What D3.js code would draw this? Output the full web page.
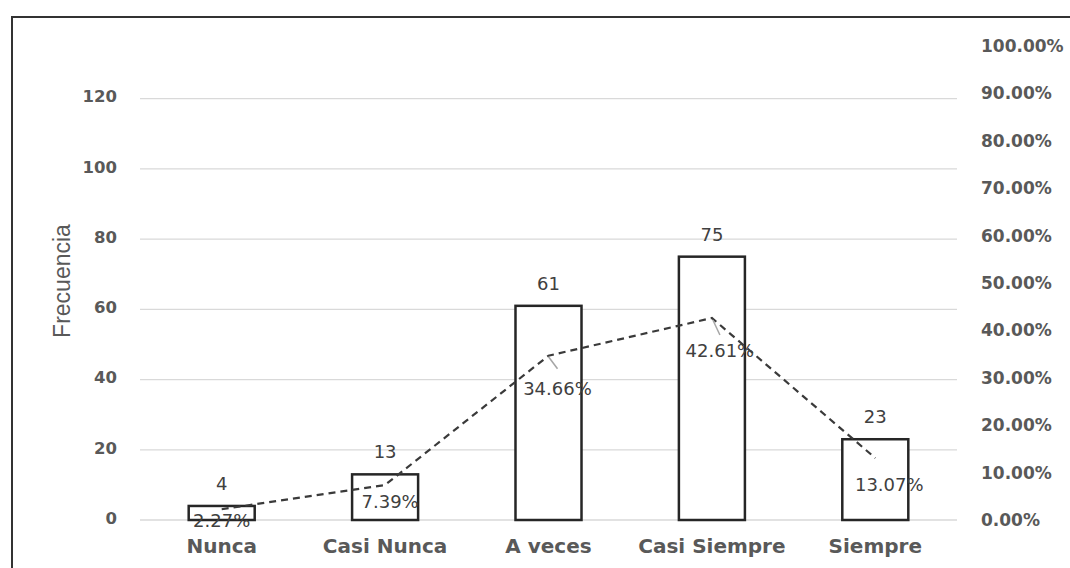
<!DOCTYPE html>
<html>
<head>
<meta charset="utf-8">
<script src="https://cdn.jsdelivr.net/npm/d3@7/dist/d3.min.js"></script>
<style>
  html, body { margin: 0; padding: 0; background: #ffffff; }
  svg { display: block; }
</style>
</head>
<body>
<script>
// ---- data ----
const categories = ["Nunca", "Casi Nunca", "A veces", "Casi Siempre", "Siempre"];
const frequencies = [4, 13, 61, 75, 23];
const percentages = [0.0227, 0.0739, 0.3466, 0.4261, 0.1307];
const percentLabels = ["2.27%", "7.39%", "34.66%", "42.61%", "13.07%"];
const leftTicks = [0, 20, 40, 60, 80, 100, 120];
const rightTicks = [0, 0.1, 0.2, 0.3, 0.4, 0.5, 0.6, 0.7, 0.8, 0.9, 1.0];
const yAxisTitle = "Frecuencia";

// ---- layout / style (not data) ----
const W = 1070, H = 568;
const plot = { left: 140, right: 957, top: 46, bottom: 520 };
const leftMax = 135;
// manual data-label offsets (dx, dy from point) as in the reference
const pctLabelOffsets = [[0, 18], [5, 23], [9, 39], [8, 39], [14, 33]];
const leaderLines = [null, null, [[0, 1], [9, 13]], [[1, 2], [8, 17]], null];

const svg = d3.select("body").append("svg").attr("width", W).attr("height", H);

// outer chart border
svg.append("rect").attr("x", 12).attr("y", 17).attr("width", 1100).attr("height", 600)
  .attr("fill", "#fff").attr("stroke", "#333").attr("stroke-width", 2);

const x = d3.scaleBand().domain(categories).range([plot.left, plot.right]).padding(0);
const yL = d3.scaleLinear().domain([0, leftMax]).range([plot.bottom, plot.top]);
const yR = d3.scaleLinear().domain([0, 1]).range([plot.bottom, plot.top]);

// gridlines
svg.append("g").selectAll("line").data(leftTicks).join("line")
  .attr("x1", plot.left).attr("x2", plot.right)
  .attr("y1", d => yL(d)).attr("y2", d => yL(d))
  .attr("stroke", "#d9d9d9").attr("stroke-width", 1.3);

// left axis
const gL = svg.append("g").attr("transform", `translate(${plot.left},0)`)
  .call(d3.axisLeft(yL).tickValues(leftTicks).tickSize(0).tickPadding(23));
gL.select(".domain").remove();
gL.selectAll("text").attr("fill", "#595959")
  .style("font-family", "'DejaVu Sans', sans-serif").style("font-weight", "bold").style("font-size", "16.5px")
  .attr("dy", "0.2em");

// right axis
const gR = svg.append("g").attr("transform", `translate(${plot.right},0)`)
  .call(d3.axisRight(yR).tickValues(rightTicks).tickSize(0).tickPadding(24)
        .tickFormat(d => (d * 100).toFixed(2) + "%"));
gR.select(".domain").remove();
gR.selectAll("text").attr("fill", "#595959")
  .style("font-family", "'DejaVu Sans', sans-serif").style("font-weight", "bold").style("font-size", "17px");

// x axis labels
const gX = svg.append("g").attr("transform", `translate(0,${plot.bottom})`)
  .call(d3.axisBottom(x).tickSize(0).tickPadding(19));
gX.select(".domain").remove();
gX.selectAll("text").attr("fill", "#595959")
  .style("font-family", "'DejaVu Sans', sans-serif").style("font-weight", "bold").style("font-size", "20px");

// y axis title
svg.append("text")
  .attr("transform", `translate(${70},${281}) rotate(-90)`)
  .attr("text-anchor", "middle")
  .attr("fill", "#595959")
  .style("font-family", "'Liberation Sans', Arial, sans-serif").style("font-size", "23px")
  .text(yAxisTitle);

// bars
const barW = x.bandwidth() * 0.404;
svg.append("g").selectAll("rect").data(frequencies).join("rect")
  .attr("x", (d, i) => x(categories[i]) + x.bandwidth() / 2 - barW / 2)
  .attr("y", d => yL(d))
  .attr("width", barW)
  .attr("height", d => yL(0) - yL(d))
  .attr("fill", "#ffffff").attr("stroke", "#262626").attr("stroke-width", 2.5);

// bar value labels
svg.append("g").selectAll("text").data(frequencies).join("text")
  .attr("x", (d, i) => x(categories[i]) + x.bandwidth() / 2)
  .attr("y", d => yL(d) - 16)
  .attr("text-anchor", "middle").attr("fill", "#404040")
  .style("font-family", "'DejaVu Sans', sans-serif").style("font-size", "18px")
  .text(d => d);

// dashed percentage line
const px = (i) => x(categories[i]) + x.bandwidth() / 2;
const line = d3.line().x((d, i) => px(i)).y(d => yR(d));
svg.append("path").datum(percentages)
  .attr("d", line).attr("fill", "none")
  .attr("stroke", "#3a3a3a").attr("stroke-width", 2.2).attr("stroke-dasharray", "7,5");

// leader lines
svg.append("g").selectAll("line").data(percentages.map((p, i) => ({ p, i })).filter(d => leaderLines[d.i]))
  .join("line")
  .attr("x1", d => px(d.i) + leaderLines[d.i][0][0]).attr("y1", d => yR(d.p) + leaderLines[d.i][0][1])
  .attr("x2", d => px(d.i) + leaderLines[d.i][1][0]).attr("y2", d => yR(d.p) + leaderLines[d.i][1][1])
  .attr("stroke", "#a6a6a6").attr("stroke-width", 1.5);

// percentage labels
svg.append("g").selectAll("text").data(percentages).join("text")
  .attr("x", (d, i) => px(i) + pctLabelOffsets[i][0])
  .attr("y", (d, i) => yR(d) + pctLabelOffsets[i][1])
  .attr("text-anchor", "middle").attr("fill", "#404040")
  .style("font-family", "'DejaVu Sans', sans-serif").style("font-size", "18px")
  .text((d, i) => percentLabels[i]);
</script>
</body>
</html>
